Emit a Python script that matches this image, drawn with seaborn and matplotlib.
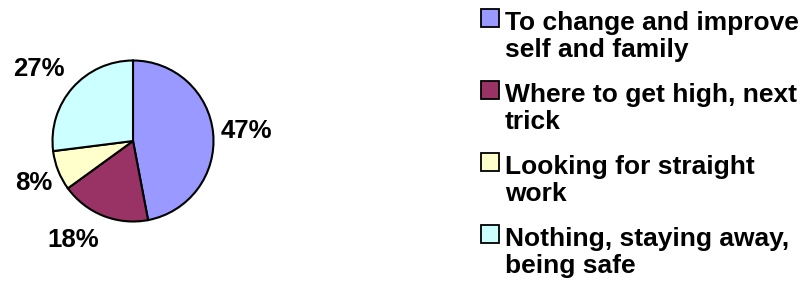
import matplotlib
matplotlib.use("Agg")
import matplotlib.pyplot as plt
import seaborn as sns
from matplotlib.patches import Rectangle

categories = ["To change and improve\nself and family",
              "Where to get high, next\ntrick",
              "Looking for straight\nwork",
              "Nothing, staying away,\nbeing safe"]
values = [47, 18, 8, 27]
colors = ["#9999FF", "#993366", "#FFFFCC", "#CCFFFF"]

# layout: label positions (in pie-radius units) as placed in the reference
label_pos = [(1.41, 0.12), (-0.745, -1.23), (-1.236, -0.516), (-1.168, 0.90)]

sns.set_theme(style="white")
plt.rcParams['font.family'] = ['Liberation Sans', 'DejaVu Sans']

W, H = 808, 282
fig = plt.figure(figsize=(W / 100, H / 100), dpi=100)
cx, cy, r = 133, 141, 80.5
ax = fig.add_axes([(cx - r) / W, (H - cy - r) / H, 2 * r / W, 2 * r / H])
wedges, texts, autotexts = ax.pie(
    values, colors=colors, startangle=90, counterclock=False,
    autopct=lambda p: f"{p:.0f}%", pctdistance=1.42,
    wedgeprops=dict(edgecolor="black", linewidth=1.5),
    textprops=dict(fontsize=18.5, fontweight="bold", color="black"))
for t, pos in zip(autotexts, label_pos):
    t.set_position(pos)
    t.set_clip_on(False)
ax.set_xlim(-1, 1)
ax.set_ylim(-1, 1)
ax.set_aspect("equal")
ax.axis("off")

# legend, drawn entry by entry
step = 72
for i, (lab, c) in enumerate(zip(categories, colors)):
    top = 9 + step * i
    fig.add_artist(Rectangle((481 / W, 1 - (top + 18) / H), 18 / W, 18 / H,
                             facecolor=c, edgecolor="black", linewidth=1.3,
                             transform=fig.transFigure))
    fig.text(505 / W, 1 - (57 + step * i) / H, lab, ha="left", va="baseline",
             fontsize=19, fontweight="bold", color="black", linespacing=1.15)

fig.savefig("out.png", dpi=100)
